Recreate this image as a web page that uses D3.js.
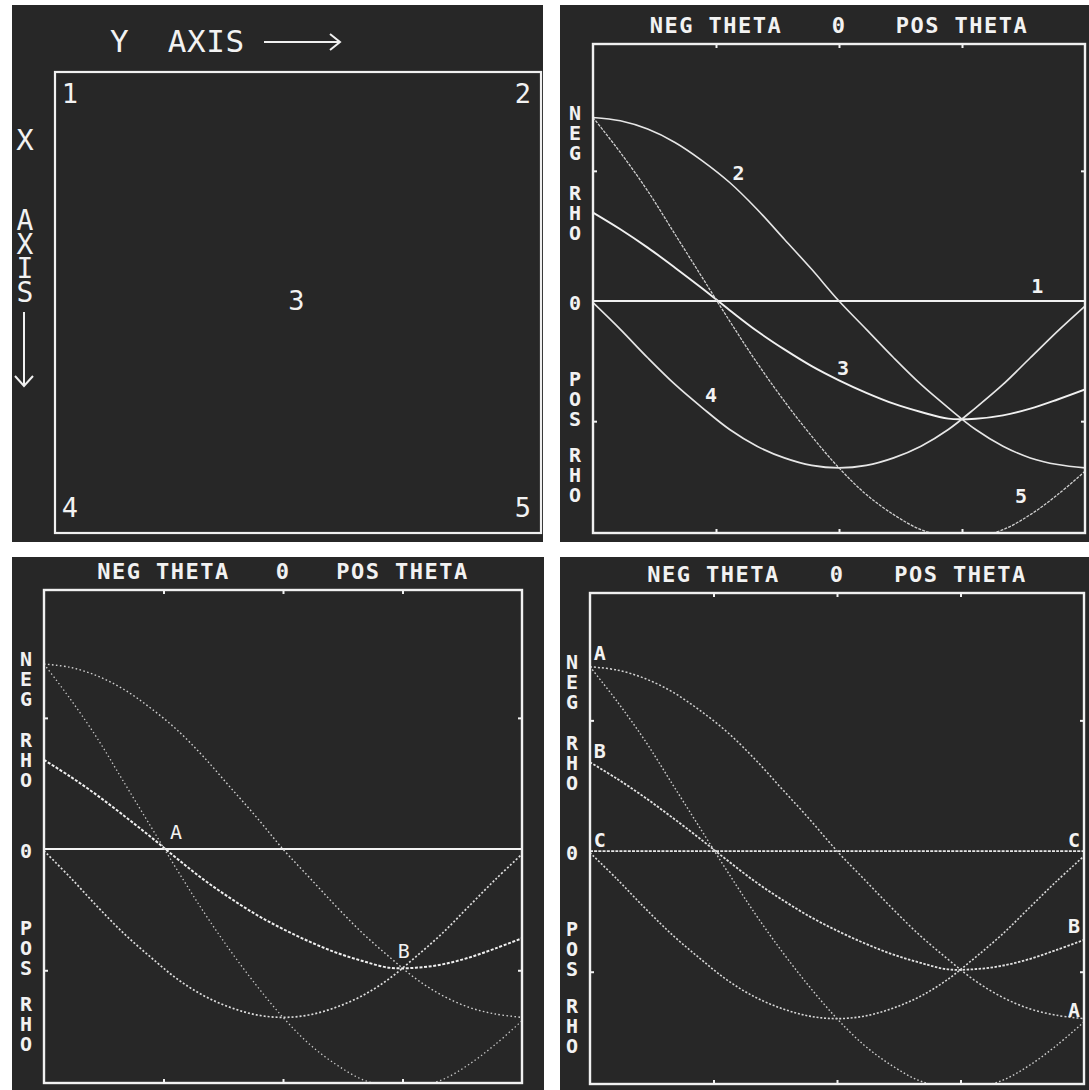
<!DOCTYPE html>
<html><head><meta charset="utf-8">
<script src="https://cdn.jsdelivr.net/npm/d3@7/dist/d3.min.js"></script>
<style>
html,body{margin:0;padding:0;background:#ffffff;}
svg{display:block;}
text{font-family:"DejaVu Sans Mono","Liberation Mono",monospace;fill:#f2f2f2;}
.vert{writing-mode:vertical-rl;text-orientation:upright;}
</style></head><body>
<svg id="chart" width="1089" height="1090"></svg>
<script>
// ---------- DATA ----------
const thetaDeg = [-90,-80,-70,-60,-50,-40,-30,-20,-10,0,10,20,30,40,50,60,70,80,90];
const rho1 = [0,0,0,0,0,0,0,0,0,0,0,0,0,0,0,0,0,0,0];
const rho2 = [-1.10,-1.08,-1.03,-0.95,-0.84,-0.71,-0.55,-0.37,-0.19,0,0.17,0.34,0.50,0.64,0.77,0.87,0.94,0.98,1.00];
const rho3 = [-0.53,-0.43,-0.32,-0.20,-0.075,0.055,0.18,0.29,0.39,0.475,0.55,0.615,0.665,0.705,0.705,0.685,0.645,0.59,0.53];
const rho4 = [0.01,0.17,0.34,0.50,0.64,0.77,0.87,0.94,0.985,1.00,0.985,0.94,0.87,0.77,0.64,0.50,0.34,0.18,0.03];
const rho5 = [-1.10,-0.89,-0.66,-0.40,-0.14,0.12,0.37,0.60,0.81,1.00,1.16,1.28,1.37,1.41,1.41,1.37,1.28,1.16,1.02];
const curveNames = ["1","2","3","4","5"];

const thetaDomain = [-90, 90];
const rhoDomain = [-1.54, 1.39];
const thetaTicks = [-45, 0, 45];
const rhoTicks = [-0.78, 0.72];
const thetaTitles = ["NEG THETA", "0", "POS THETA"];
const thetaTitleAt = [-45, 0, 45];
const rhoWords = ["NEG", "RHO", "0", "POS", "RHO"];
const rhoWordAt = [-1.02, -0.54, 0, 0.575, 1.03];

// image-space panel: five points (row = X axis down, col = Y axis right)
const imgLabels = ["1","2","3","4","5"];
const imgRow = [0, 0, 0.5, 1, 1];
const imgCol = [0, 1, 0.5, 0, 1];

// curve labels in Hough panels
const p2Text = ["1","2","3","4","5"];
const p2Theta = [72.5, -36.8, 1.5, -46.8, 66.6];
const p2Rho = [-0.09, -0.77, 0.40, 0.565, 1.17];
const p3Text = ["A","B"];
const p3Theta = [-40.3, 45.5];
const p3Rho = [-0.10, 0.605];
const p4Text = ["A","B","C","C","B","A"];
const p4Theta = [-86.4, -86.4, -86.4, 86.4, 86.4, 86.4];
const p4Rho = [-1.18, -0.60, -0.066, -0.066, 0.45, 0.95];

// ---------- DRAW ----------
const svg = d3.select("#chart");
const BG = "#272727", FG = "#f0f0f0";
const allRho = [rho1, rho2, rho3, rho4, rho5];
const series = allRho.map((arr, i) => ({name: curveNames[i], pts: thetaDeg.map((t, j) => ({t, r: arr[j]}))}));

function panelBg(x0, y0, x1, y1) {
  svg.append("rect").attr("x", x0).attr("y", y0).attr("width", x1 - x0).attr("height", y1 - y0).attr("fill", BG);
}

// ---- Panel 1: image space ----
panelBg(12, 5, 543, 542);
const f1 = {x0: 55, y0: 72, x1: 541, y1: 533};
svg.append("rect").attr("x", f1.x0).attr("y", f1.y0).attr("width", f1.x1 - f1.x0).attr("height", f1.y1 - f1.y0)
  .attr("fill", "none").attr("stroke", FG).attr("stroke-width", 2.2);
const colS = d3.scaleLinear().domain([0, 1]).range([70, 523]);
const rowS = d3.scaleLinear().domain([0, 1]).range([93, 507]);
svg.append("g").selectAll("text").data(imgLabels).join("text")
  .attr("x", (d, i) => colS(imgCol[i])).attr("y", (d, i) => rowS(imgRow[i]))
  .attr("text-anchor", "middle").attr("dominant-baseline", "central")
  .style("font-size", "27px").text(d => d);
// Y AXIS label and arrow
svg.append("text").attr("x", 110).attr("y", 52).style("font-size", "31px").style("letter-spacing", "0.6px")
  .attr("xml:space", "preserve").text("Y  AXIS");
svg.append("path").attr("d", "M264,42 H340 M330,34 L340,42 L330,50")
  .attr("fill", "none").attr("stroke", FG).attr("stroke-width", 2);
// X AXIS vertical
svg.append("text").attr("class", "vert").attr("x", 25).attr("y", 140).attr("text-anchor", "middle")
  .style("font-size", "29px").text("X");
svg.append("text").attr("class", "vert").attr("x", 25).attr("y", 252).attr("text-anchor", "middle")
  .style("font-size", "28px").style("letter-spacing", "-9px").text("AXIS");
svg.append("path").attr("d", "M24,312 V386 M15,376 L24,386 L33,376")
  .attr("fill", "none").attr("stroke", FG).attr("stroke-width", 2);

// ---- Hough panels ----
function houghPanel(bg, fr, labelText, labelTheta, labelRho, styles, labelStyle) {
  panelBg(...bg);
  const x = d3.scaleLinear().domain(thetaDomain).range([fr.x0, fr.x1]);
  const y = d3.scaleLinear().domain(rhoDomain).range([fr.y0, fr.y1]);
  const id = "clip" + Math.round(fr.x0) + "_" + Math.round(fr.y0);
  svg.append("clipPath").attr("id", id).append("rect")
    .attr("x", fr.x0).attr("y", fr.y0).attr("width", fr.x1 - fr.x0).attr("height", fr.y1 - fr.y0);
  const line = d3.line().x(d => x(d.t)).y(d => y(d.r)).curve(d3.curveCatmullRom.alpha(0.5));
  const g = svg.append("g").attr("clip-path", `url(#${id})`);
  g.selectAll("path").data(series).join("path")
    .attr("d", d => line(d.pts)).attr("fill", "none")
    .attr("stroke", (d, i) => styles[i].c).attr("stroke-width", (d, i) => styles[i].w)
    .attr("stroke-dasharray", (d, i) => styles[i].dash || null);
  // frame
  svg.append("rect").attr("x", fr.x0).attr("y", fr.y0).attr("width", fr.x1 - fr.x0).attr("height", fr.y1 - fr.y0)
    .attr("fill", "none").attr("stroke", FG).attr("stroke-width", 2.4);
  // ticks via d3 axes
  const tickG = (axis, tx, ty) => {
    const a = svg.append("g").attr("transform", `translate(${tx},${ty})`).call(axis);
    a.select(".domain").remove();
    a.selectAll(".tick line").attr("stroke", FG).attr("stroke-width", 2);
    a.selectAll(".tick text").remove();
  };
  tickG(d3.axisTop(x).tickValues(thetaTicks).tickSize(-4), 0, fr.y0);
  tickG(d3.axisBottom(x).tickValues(thetaTicks).tickSize(-4), 0, fr.y1);
  tickG(d3.axisLeft(y).tickValues(rhoTicks).tickSize(-4), fr.x0, 0);
  tickG(d3.axisRight(y).tickValues(rhoTicks).tickSize(-4), fr.x1, 0);
  // title
  svg.append("g").selectAll("text").data(thetaTitles).join("text")
    .attr("x", (d, i) => x(thetaTitleAt[i])).attr("y", fr.y0 - 11)
    .attr("text-anchor", "middle").style("font-size", "22px").style("font-weight", "bold")
    .style("letter-spacing", "1.5px").attr("xml:space", "preserve").text(d => d);
  // vertical rho words
  const lx = fr.x0 - 18;
  svg.append("g").selectAll("text").data(rhoWords).join("text")
    .attr("class", "vert")
    .attr("x", lx).attr("y", (d, i) => y(rhoWordAt[i]))
    .attr("text-anchor", "middle")
    .style("font-size", "20px").style("font-weight", "bold").style("letter-spacing", "-4px")
    .text(d => d);
  // curve labels
  svg.append("g").selectAll("text").data(labelText).join("text")
    .attr("x", (d, i) => x(labelTheta[i])).attr("y", (d, i) => y(labelRho[i]))
    .attr("text-anchor", "middle").attr("dominant-baseline", "central")
    .style("font-size", "20px").style("font-weight", labelStyle).text(d => d);
}

const solidStyles = [
  {c: "#f0f0f0", w: 1.8},
  {c: "#e6e6e6", w: 1.6},
  {c: "#f0f0f0", w: 1.9},
  {c: "#e6e6e6", w: 1.7},
  {c: "#cfcfcf", w: 1.3, dash: "3 1.2"}
];
const dotStylesA = [
  {c: "#f4f4f4", w: 2.0},
  {c: "#cfcfcf", w: 1.4, dash: "1.6 2.4"},
  {c: "#f0f0f0", w: 2.0, dash: "3 1.6"},
  {c: "#dedede", w: 1.7, dash: "2 2"},
  {c: "#c8c8c8", w: 1.3, dash: "1.4 2.6"}
];
const dotStylesB = [
  {c: "#e6e6e6", w: 1.8, dash: "3 1.2"},
  {c: "#d2d2d2", w: 1.5, dash: "2 2"},
  {c: "#e2e2e2", w: 1.8, dash: "2.5 1.5"},
  {c: "#d8d8d8", w: 1.6, dash: "2 1.8"},
  {c: "#cccccc", w: 1.4, dash: "1.6 2.2"}
];

houghPanel([560, 5, 1089, 542], {x0: 593, y0: 44, x1: 1085, y1: 533}, p2Text, p2Theta, p2Rho, solidStyles, "bold");
houghPanel([12, 557, 544, 1090], {x0: 44, y0: 590, x1: 522, y1: 1083}, p3Text, p3Theta, p3Rho, dotStylesA, "normal");
houghPanel([560, 557, 1089, 1090], {x0: 590, y0: 593, x1: 1084, y1: 1084}, p4Text, p4Theta, p4Rho, dotStylesB, "bold");
</script>
</body></html>
